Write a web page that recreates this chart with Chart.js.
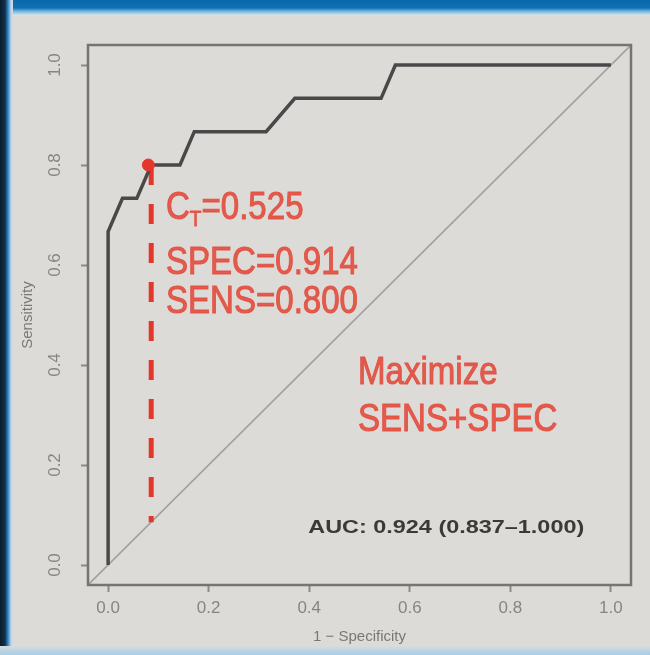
<!DOCTYPE html>
<html>
<head>
<meta charset="utf-8">
<script src="https://cdn.jsdelivr.net/npm/chart.js@4/dist/chart.umd.min.js"></script>
<style>
  html, body { margin: 0; padding: 0; background: #dddbd8; overflow: hidden; }
  #wrap { position: relative; width: 650px; height: 655px; }
  #myChart { position: absolute; left: 0; top: 0; }
  .strip { position: absolute; }
  #topStrip { left: 0; top: 0; width: 650px; height: 17px;
    background: linear-gradient(#0a68aa 0px, #0d72b4 8px, #6fb0da 11px, #cfe3ee 15px, #dddbd8 17px); }
  #leftStrip { left: 0; top: 0; width: 13px; height: 655px;
    background: linear-gradient(90deg, #0b1c2c 0px, #10314d 5px, #2f86c6 8px, #b9d6ea 11px, #dddbd8 13px); }
  #bottomStrip { left: 0; top: 646px; width: 650px; height: 9px;
    background: linear-gradient(#dddbd8 0px, #bcd6e6 4px, #a9cde4 9px); }
</style>
</head>
<body>
<div id="wrap">
  <canvas id="myChart" width="650" height="655"></canvas>
  <div class="strip" id="topStrip"></div>
  <div class="strip" id="leftStrip"></div>
  <div class="strip" id="bottomStrip"></div>
</div>
<script>
// ROC curve (1 - specificity, sensitivity)
const rocFpr = [0, 0, 0.0286, 0.0571, 0.0857, 0.1429, 0.1714, 0.3143, 0.3714, 0.5429, 0.5714, 1.0];
const rocTpr = [0, 0.6667, 0.7333, 0.7333, 0.8, 0.8, 0.8667, 0.8667, 0.9333, 0.9333, 1.0, 1.0];

// chance line, drawn across the whole plot region like abline()
const diagX = [-0.04, 1.04];
const diagY = [-0.04, 1.04];

// best threshold (Youden)
const bestFpr = [0.08];
const bestTpr = [0.8];
// dashed drop line from the best point to the diagonal
const dropX = [0.0857, 0.0857];
const dropY = [0.8, 0.0857];

const tickValues = [0, 0.2, 0.4, 0.6, 0.8, 1.0];
const tickLabels = ['0.0', '0.2', '0.4', '0.6', '0.8', '1.0'];

const cutLabel = '0.525';
const specLabel = 'SPEC=0.914';
const sensLabel = 'SENS=0.800';
const aucLabel = 'AUC: 0.924 (0.837\u20131.000)';

const toPoints = (xs, ys) => xs.map((x, i) => ({ x: x, y: ys[i] }));

const RED = '#e4372b';
const RED_TEXT = 'rgba(226, 76, 62, 0.9)';
const GREY_TXT = '#878584';

const boxPlugin = {
  id: 'rBox',
  afterDatasetsDraw(chart) {
    const ctx = chart.ctx;
    const a = chart.chartArea;
    const xs = chart.scales.x;
    const ys = chart.scales.y;

    // plot box like R's box()
    ctx.save();
    ctx.strokeStyle = '#767473';
    ctx.lineWidth = 2.5;
    ctx.strokeRect(a.left, a.top, a.right - a.left, a.bottom - a.top);
    ctx.restore();

    // squeezed text helper, with a thin outline to match the blurry photo
    const drawText = (text, px, py, font, color, sx, align, thick) => {
      ctx.save();
      ctx.font = font;
      ctx.fillStyle = color;
      ctx.strokeStyle = color;
      ctx.lineWidth = thick || 0;
      ctx.textBaseline = 'alphabetic';
      const w = ctx.measureText(text).width * sx;
      let left = px;
      if (align === 'right') left = px - w;
      ctx.translate(left, py);
      ctx.scale(sx, 1);
      ctx.fillText(text, 0, 0);
      if (thick) ctx.strokeText(text, 0, 0);
      ctx.restore();
      return w;
    };

    const bigFont = '38px "Liberation Sans", Arial, sans-serif';
    const smallFont = '22px "Liberation Sans", Arial, sans-serif';
    const sx = 0.87;

    // C_T=0.525
    const tx = xs.getPixelForValue(0.115);
    const y1 = ys.getPixelForValue(0.692);
    const w = drawText('C', tx, y1, bigFont, RED_TEXT, sx, 'left', 1);
    const w2 = drawText('T', tx + w, y1 + 7, smallFont, RED_TEXT, sx, 'left', 0.8);
    drawText('=' + cutLabel, tx + w + w2, y1, bigFont, RED_TEXT, sx, 'left', 1);

    drawText(specLabel, tx, ys.getPixelForValue(0.583), bigFont, RED_TEXT, sx, 'left', 1);
    drawText(sensLabel, tx, ys.getPixelForValue(0.505), bigFont, RED_TEXT, sx, 'left', 1);

    const mx = xs.getPixelForValue(0.497);
    drawText('Maximize', mx, ys.getPixelForValue(0.362), bigFont, RED_TEXT, sx, 'left', 1);
    drawText('SENS+SPEC', mx, ys.getPixelForValue(0.268), bigFont, RED_TEXT, sx, 'left', 1);

    // AUC text, right aligned
    const aucFont = 'bold 19px "Liberation Sans", Arial, sans-serif';
    ctx.save();
    ctx.font = aucFont;
    const aw = ctx.measureText(aucLabel).width;
    ctx.restore();
    const targetW = xs.getPixelForValue(0.947) - xs.getPixelForValue(0.398);
    drawText(aucLabel, xs.getPixelForValue(0.947), ys.getPixelForValue(0.064),
      aucFont, '#3b3a3a', targetW / aw, 'right', 0);
  }
};

const ctx = document.querySelector('#myChart');

const myChart = new Chart(ctx, {
  type: 'scatter',
  data: {
    datasets: [
      {
        label: 'chance',
        data: toPoints(diagX, diagY),
        showLine: true,
        borderColor: '#a3a1a0',
        borderWidth: 1.6,
        pointRadius: 0,
        order: 4
      },
      {
        label: 'drop',
        data: toPoints(dropX, dropY),
        showLine: true,
        borderColor: RED,
        borderWidth: 5,
        borderDash: [20, 19],
        pointRadius: 0,
        order: 3
      },
      {
        label: 'ROC',
        data: toPoints(rocFpr, rocTpr),
        showLine: true,
        borderColor: '#4a4949',
        borderWidth: 3.5,
        pointRadius: 0,
        tension: 0,
        order: 2
      },
      {
        label: 'best',
        data: toPoints(bestFpr, bestTpr),
        showLine: false,
        backgroundColor: RED,
        borderColor: RED,
        pointRadius: 6,
        order: 1
      }
    ]
  },
  options: {
    responsive: false,
    animation: false,
    events: [],
    layout: { padding: { left: 12, top: 45, right: 19, bottom: 0 } },
    plugins: {
      legend: { display: false },
      tooltip: { enabled: false }
    },
    scales: {
      x: {
        type: 'linear',
        min: -0.04,
        max: 1.04,
        afterBuildTicks: (scale) => {
          scale.ticks = tickValues.map((v) => ({ value: v }));
        },
        afterFit: (scale) => { scale.height = 70; },
        border: { display: false },
        grid: {
          drawOnChartArea: false,
          drawTicks: true,
          tickLength: 7,
          tickColor: '#8c8a89',
          tickWidth: 2
        },
        ticks: {
          autoSkip: false,
          maxRotation: 0,
          padding: 6,
          color: GREY_TXT,
          font: { family: '"Liberation Sans", Arial, sans-serif', size: 17 },
          callback: (value) => tickLabels[tickValues.indexOf(value)]
        },
        title: {
          display: true,
          text: '1 \u2212 Specificity',
          color: '#7a7877',
          font: { family: '"Liberation Sans", Arial, sans-serif', size: 15 },
          padding: { top: 0, bottom: 9 }
        }
      },
      y: {
        type: 'linear',
        min: -0.04,
        max: 1.04,
        afterBuildTicks: (scale) => {
          scale.ticks = tickValues.map((v) => ({ value: v }));
        },
        afterFit: (scale) => { scale.width = 76; },
        border: { display: false },
        grid: {
          drawOnChartArea: false,
          drawTicks: true,
          tickLength: 7,
          tickColor: '#8c8a89',
          tickWidth: 2
        },
        ticks: {
          autoSkip: false,
          minRotation: 90,
          maxRotation: 90,
          crossAlign: 'center',
          padding: 14,
          color: GREY_TXT,
          font: { family: '"Liberation Sans", Arial, sans-serif', size: 17 },
          callback: (value) => tickLabels[tickValues.indexOf(value)]
        },
        title: {
          display: true,
          text: 'Sensitivity',
          color: '#7a7877',
          font: { family: '"Liberation Sans", Arial, sans-serif', size: 15 },
          padding: { top: 7, bottom: 0 }
        }
      }
    }
  },
  plugins: [boxPlugin]
});
</script>
</body>
</html>
